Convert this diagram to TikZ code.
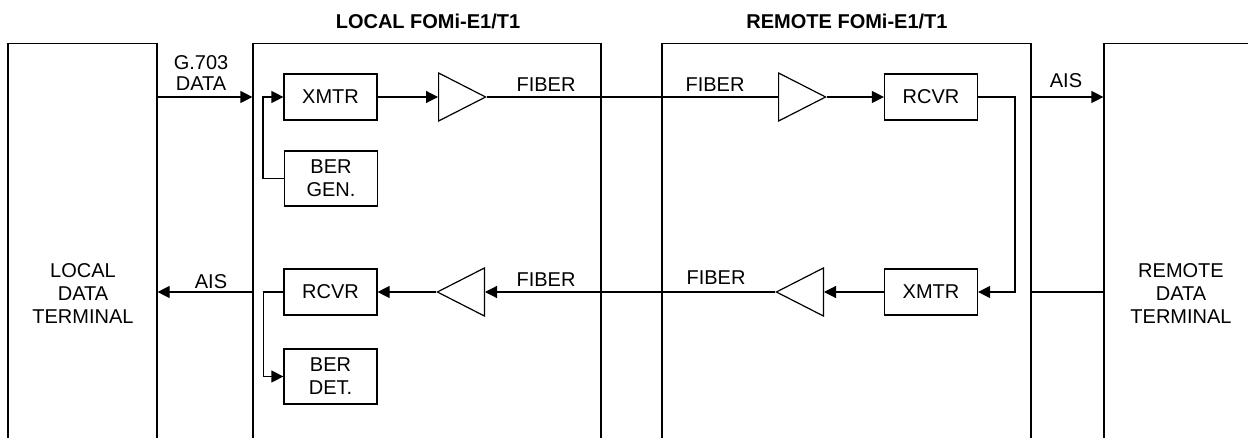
\documentclass[tikz,border=0pt]{standalone}
\usepackage{fontspec}
\setmainfont{Liberation Sans}
\usetikzlibrary{shapes.geometric,arrows.meta,positioning}

\begin{document}
\begin{tikzpicture}[
        x=0.5pt, y=-0.5pt,
        line width=0.6pt,
        >={Triangle[length=6pt,width=6pt]},
        every node/.style={font=\fontsize{10}{11.5}\selectfont, inner sep=0pt},
        frame/.style={draw, rectangle, minimum height=220pt, anchor=north},
        block/.style={draw, rectangle, minimum width=46.5pt, minimum height=23pt, align=center},
        amp/.style={draw, isosceles triangle, isosceles triangle stretches,
                    minimum width=24pt, minimum height=23.5pt, anchor=lower side},
        lbl/.style={align=center},
        title/.style={font=\fontsize{10}{11.5}\selectfont\bfseries}
    ]

    \useasboundingbox (0,0) rectangle (1248,438);
    \clip (0,0) rectangle (1248,438);

    % frames
    \node[frame, minimum width=74.5pt] (ldt) at (82.5,43) {};
    \node[frame, minimum width=174pt] (localbox) at (427,43) {};
    \node[frame, minimum width=184.5pt] (remotebox) at (846.5,43) {};
    \node[frame, minimum width=78pt] (rdt) at (1182,43) {};

    \node[title] (localtitle) at (428,21) {LOCAL FOMi-E1/T1};
    \node[title] (remotetitle) at (847,21) {REMOTE FOMi-E1/T1};

    \node[lbl] (ldttext) at (83,294) {LOCAL\\DATA\\TERMINAL};
    \node[lbl] (rdttext) at (1181,294) {REMOTE\\DATA\\TERMINAL};

    % local unit
    \node[block] (xmtrL) at (330.5,97) {XMTR};
    \node[block, minimum height=27.5pt] (bergen) at (331,178.5) {BER\\GEN.};
    \node[block] (rcvrL) at (330.5,292) {RCVR};
    \node[block, minimum height=27.5pt] (berdet) at (330.5,376.5) {BER\\DET.};
    \node[amp] (ampL1) at (438,97) {};
    \node[amp, shape border rotate=180] (ampL2) at (485,292) {};

    % remote unit
    \node[amp] (ampR1) at (778,97) {};
    \node[amp, shape border rotate=180] (ampR2) at (824,292) {};
    \node[block] (rcvrR) at (931,97) {RCVR};
    \node[block] (xmtrR) at (931,292) {XMTR};
    \coordinate (loop) at (1015,97);

    % transmit direction
    \draw[->] (ldt.east |- xmtrL) -- (localbox.west |- xmtrL);
    \node[lbl, font=\fontsize{10}{10.5}\selectfont] (g703) at (201,73.5) {G.703\\DATA};
    \draw[->] (bergen.west) -- ++(-21,0) |- (xmtrL.west);
    \draw[->] (xmtrL.east) -- (ampL1.lower side);
    \draw (ampL1.apex) -- (ampR1.lower side);
    \node (fiberL1) at (546,85) {FIBER};
    \node (fiberR1) at (715,85) {FIBER};
    \draw[->] (ampR1.apex) -- (rcvrR.west);
    \draw[->] (remotebox.east |- rcvrR) -- (rdt.west |- rcvrR);
    \node (aisR) at (1066,81) {AIS};

    % receive direction
    \draw[->] (rcvrR.east) -- (loop) |- (xmtrR.east);
    \draw[->] (xmtrR.west) -- (ampR2.lower side);
    \draw[->] (ampR2.apex) -- (ampL2.lower side);
    \node (fiberL2) at (546,280) {FIBER};
    \node (fiberR2) at (716,278) {FIBER};
    \draw[->] (ampL2.apex) -- (rcvrL.east);
    \draw[->] (rcvrL.west) -- ++(-20,0) |- (berdet.west);
    \draw[->] (localbox.west |- rcvrL) -- (ldt.east |- rcvrL);
    \node (aisL) at (211,282) {AIS};
    \draw (remotebox.east |- xmtrR) -- (rdt.west |- xmtrR);

\end{tikzpicture}
\end{document}
